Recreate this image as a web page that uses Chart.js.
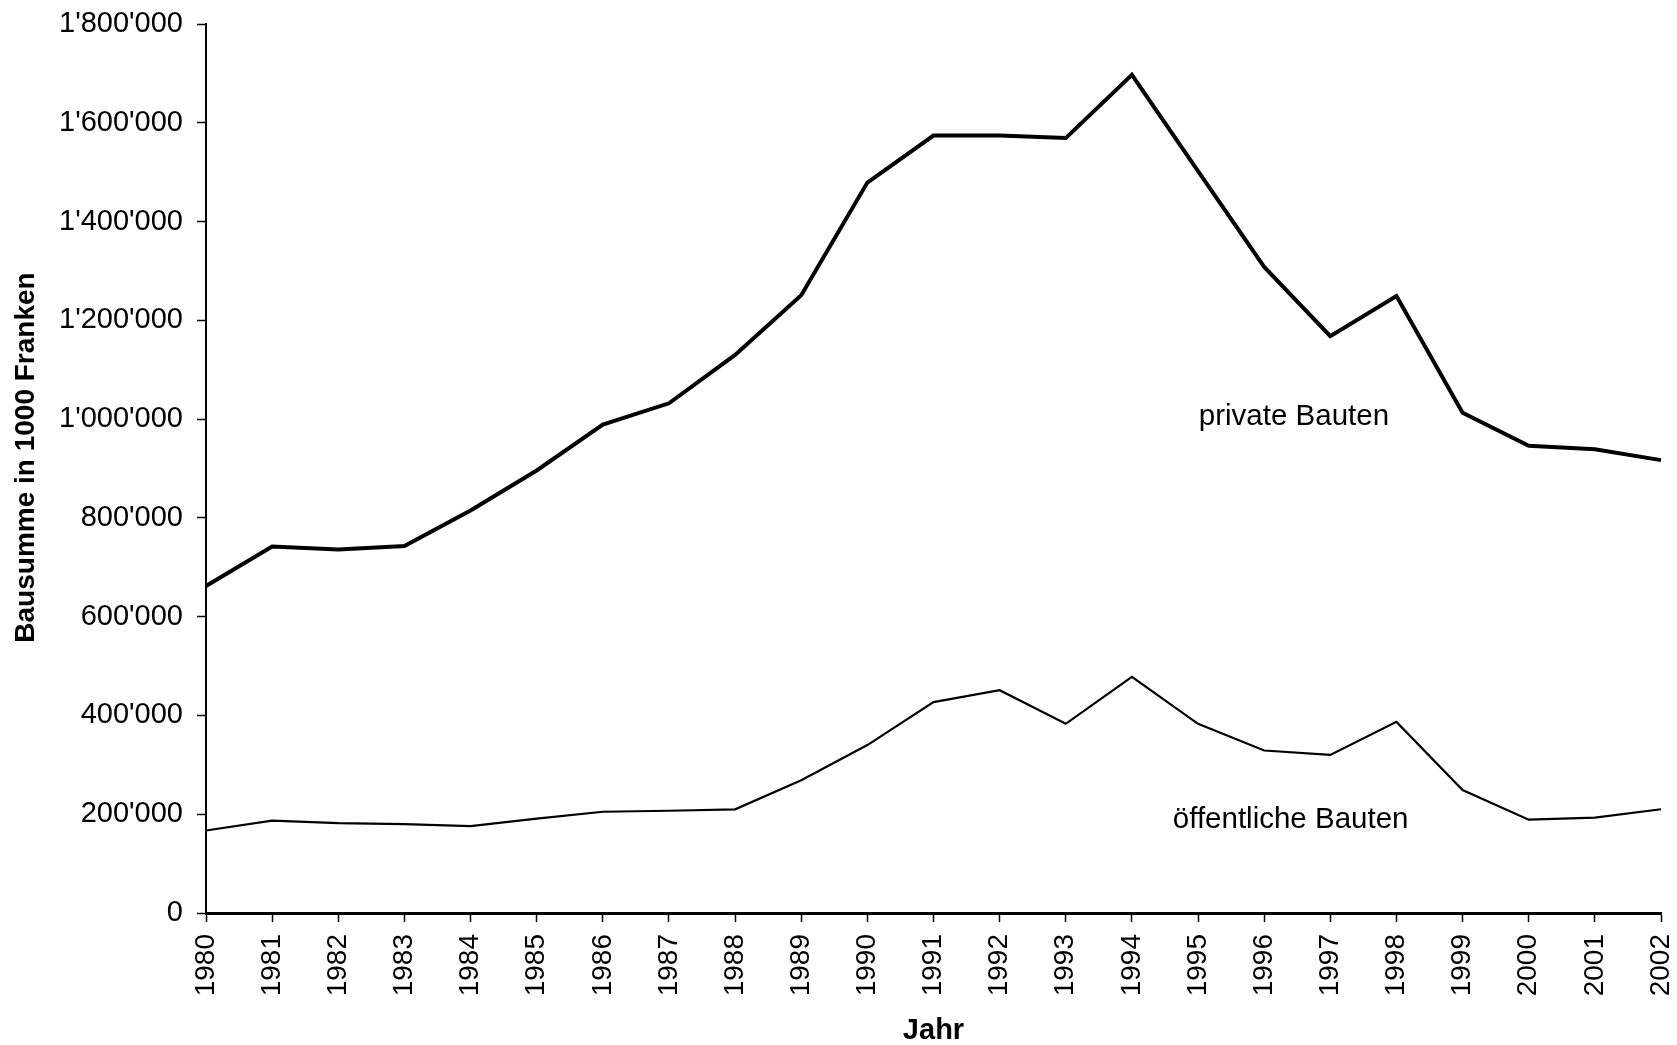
<!DOCTYPE html>
<html>
<head>
<meta charset="utf-8">
<script src="https://cdn.jsdelivr.net/npm/chart.js@4/dist/chart.umd.min.js"></script>
<style>
  html, body { margin: 0; padding: 0; background: #fff; }
  canvas { display: block; }
</style>
</head>
<body>
<canvas id="chart" width="1677" height="1045"></canvas>
<script>
// Jahre
const years = ["1980","1981","1982","1983","1984","1985","1986","1987","1988","1989","1990",
               "1991","1992","1993","1994","1995","1996","1997","1998","1999","2000","2001","2002"];

// Bausumme in 1000 Franken
const privateBauten = [662000, 742000, 736000, 743000, 815000, 896000, 989000, 1032000, 1130000, 1251000, 1479000,
                       1574000, 1574000, 1569000, 1697000, 1502000, 1308000, 1168000, 1249000, 1013000, 946000, 939000, 917000];
const oeffentlicheBauten = [167000, 187000, 182000, 180000, 176000, 191000, 205000, 207000, 210000, 269000, 340000,
                            427000, 451000, 383000, 478000, 383000, 329000, 320000, 387000, 249000, 189000, 193000, 210000];

const yTicks = [0, 200000, 400000, 600000, 800000, 1000000, 1200000, 1400000, 1600000, 1800000];

const FONT = "'Liberation Sans', Arial, sans-serif";

function fmt(v) {
    return String(v).replace(/\B(?=(\d{3})+(?!\d))/g, "'");
}

// Beschriftungen direkt an den Linien + Achsentitel links
const lineLabels = {
    id: 'lineLabels',
    afterDatasetsDraw(chart) {
        const ctx = chart.ctx;
        const x = chart.scales.x, y = chart.scales.y;
        const area = chart.chartArea;
        ctx.save();
        ctx.font = "29.5px " + FONT;
        ctx.fillStyle = "#000";
        ctx.textAlign = "center";
        ctx.textBaseline = "middle";
        ctx.fillText("private Bauten", x.getPixelForValue(16.45), y.getPixelForValue(1005000));
        ctx.fillText("öffentliche Bauten", x.getPixelForValue(16.4), y.getPixelForValue(189000));

        // y-Titel, etwas oberhalb der Mitte wie im Original
        ctx.font = "bold 28px " + FONT;
        ctx.translate(26, (area.top + area.bottom) / 2 - 11);
        ctx.rotate(-Math.PI / 2);
        ctx.fillText("Bausumme in 1000 Franken", 0, 0);
        ctx.restore();
    }
};

new Chart(document.getElementById("chart"), {
    type: 'line',
    data: {
        labels: years,
        datasets: [
            {
                label: "private Bauten",
                data: privateBauten,
                borderColor: "#000",
                borderWidth: 4,
                pointRadius: 0,
                tension: 0,
                borderJoinStyle: 'miter'
            },
            {
                label: "öffentliche Bauten",
                data: oeffentlicheBauten,
                borderColor: "#000",
                borderWidth: 2.2,
                pointRadius: 0,
                tension: 0,
                borderJoinStyle: 'miter'
            }
        ]
    },
    options: {
        responsive: false,
        animation: false,
        devicePixelRatio: 1,
        layout: { padding: { left: 0, top: 24, right: 16, bottom: 0 } },
        plugins: {
            legend: { display: false },
            tooltip: { enabled: false }
        },
        scales: {
            x: {
                border: { display: true, color: "#000", width: 3 },
                grid: { display: true, drawOnChartArea: false, drawTicks: true, tickLength: 9, tickColor: "#000", tickWidth: 1.5 },
                ticks: {
                    color: "#000",
                    font: { family: FONT, size: 28 },
                    minRotation: 90,
                    maxRotation: 90,
                    autoSkip: false,
                    padding: 12
                },
                title: {
                    display: true,
                    text: "Jahr",
                    color: "#000",
                    font: { family: FONT, size: 29, weight: 'bold', lineHeight: 1 },
                    padding: { top: 0, bottom: 0 }
                },
                afterFit(s) {
                    s.height = 132;
                    s.paddingLeft = 0;
                    s.paddingRight = 0;
                }
            },
            y: {
                min: 0,
                max: 1800000,
                border: { display: true, color: "#000", width: 2 },
                grid: { display: true, drawOnChartArea: false, drawTicks: true, tickLength: 9, tickColor: "#000", tickWidth: 1.5 },
                afterBuildTicks(s) {
                    s.ticks = yTicks.map(v => ({ value: v }));
                },
                ticks: {
                    color: "#000",
                    font: { family: FONT, size: 29 },
                    padding: 14,
                    callback: v => fmt(v)
                },
                afterFit(s) {
                    s.width = 206;
                    s.paddingTop = 0;
                    s.paddingBottom = 0;
                }
            }
        }
    },
    plugins: [lineLabels]
});
</script>
</body>
</html>
